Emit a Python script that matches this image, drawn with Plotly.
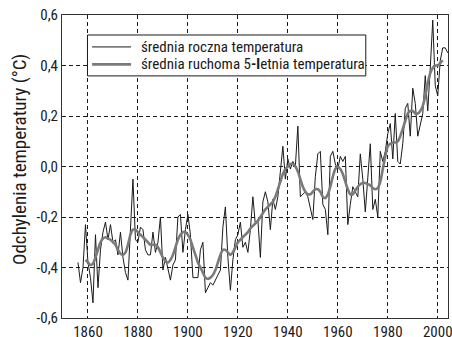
import plotly.graph_objects as go

years = list(range(1856, 2005))
annual = [
    -0.38, -0.46, -0.40, -0.23, -0.38, -0.44, -0.54, -0.27, -0.48, -0.33,  # 1856-1865
    -0.26, -0.22, -0.29, -0.23, -0.30, -0.29, -0.35, -0.26, -0.36, -0.42,  # 1866-1875
    -0.45, -0.27, -0.05, -0.29, -0.30, -0.24, -0.25, -0.33, -0.35, -0.35,  # 1876-1885
    -0.26, -0.34, -0.30, -0.20, -0.41, -0.36, -0.40, -0.45, -0.39, -0.37,  # 1886-1895
    -0.20, -0.19, -0.34, -0.25, -0.19, -0.27, -0.44, -0.44, -0.44, -0.33,  # 1896-1905
    -0.30, -0.50, -0.48, -0.46, -0.47, -0.45, -0.43, -0.41, -0.24, -0.16,  # 1906-1915
    -0.36, -0.49, -0.37, -0.29, -0.27, -0.22, -0.32, -0.30, -0.34, -0.25,  # 1916-1925
    -0.12, -0.23, -0.21, -0.36, -0.14, -0.10, -0.14, -0.25, -0.13, -0.17,  # 1926-1935
    -0.12, -0.02, 0.08, -0.05, 0.03, -0.01, 0.02, 0.00, 0.16, -0.12,       # 1936-1945
    -0.11, -0.10, -0.12, -0.16, -0.21, -0.04, 0.05, 0.06, -0.15, -0.17,    # 1946-1955
    -0.27, 0.04, 0.06, 0.01, -0.01, 0.04, 0.02, 0.04, -0.23, -0.15,        # 1956-1965
    -0.08, -0.10, -0.12, 0.05, -0.05, -0.18, -0.06, 0.09, -0.17, -0.13,    # 1966-1975
    -0.20, 0.06, 0.02, 0.06, 0.13, 0.17, 0.03, 0.21, 0.02, 0.01,           # 1976-1985
    0.09, 0.23, 0.25, 0.12, 0.31, 0.25, 0.12, 0.16, 0.21, 0.36,            # 1986-1995
    0.22, 0.39, 0.58, 0.32, 0.28, 0.42, 0.47, 0.47, 0.45,                  # 1996-2004
]

ma_years = list(range(1859, 2003))
moving5 = [
    -0.37, -0.38, -0.39, -0.385, -0.36, -0.33, -0.30, -0.285, -0.28, -0.285,  # 1859-1868
    -0.29, -0.30, -0.31, -0.33, -0.345, -0.35, -0.34, -0.31, -0.27, -0.25,    # 1869-1878
    -0.25, -0.26, -0.27, -0.28, -0.29, -0.30, -0.31, -0.31, -0.31, -0.32,     # 1879-1888
    -0.34, -0.36, -0.375, -0.38, -0.37, -0.35, -0.32, -0.29, -0.27, -0.26,    # 1889-1898
    -0.26, -0.27, -0.29, -0.32, -0.35, -0.38, -0.40, -0.42, -0.44, -0.445,    # 1899-1908
    -0.44, -0.43, -0.41, -0.38, -0.35, -0.33, -0.33, -0.34, -0.35, -0.34,     # 1909-1918
    -0.32, -0.30, -0.29, -0.28, -0.27, -0.26, -0.245, -0.235, -0.225, -0.215, # 1919-1928
    -0.20, -0.185, -0.17, -0.16, -0.15, -0.14, -0.12, -0.09, -0.06, -0.03,    # 1929-1938
    -0.01, 0.00, 0.01, 0.01, 0.00, -0.02, -0.05, -0.08, -0.10, -0.11,         # 1939-1948
    -0.11, -0.10, -0.09, -0.09, -0.10, -0.12, -0.125, -0.11, -0.08, -0.04,    # 1949-1958
    -0.01, 0.00, -0.01, -0.03, -0.06, -0.09, -0.11, -0.11, -0.095, -0.08,     # 1959-1968
    -0.07, -0.065, -0.065, -0.07, -0.075, -0.085, -0.09, -0.085, -0.06, -0.01, # 1969-1978
    0.04, 0.08, 0.09, 0.095, 0.095, 0.10, 0.12, 0.15, 0.18, 0.21,             # 1979-1988
    0.22, 0.22, 0.21, 0.21, 0.22, 0.24, 0.28, 0.33, 0.37, 0.39,               # 1989-1998
    0.40, 0.40, 0.41, 0.42,                                                   # 1999-2002
]

x_ticks = [1860, 1880, 1900, 1920, 1940, 1960, 1980, 2000]
y_ticks = [-0.6, -0.4, -0.2, 0.0, 0.2, 0.4, 0.6]
y_tick_labels = ["-0,6", "-0,4", "-0,2", "0,0", "0,2", "0,4", "0,6"]
name_annual = "średnia roczna temperatura"
name_moving = "średnia ruchoma 5<b>-l</b>etnia temperatura"
y_title = "Odchylenia temperatury (°C)"

FONT = "Liberation Sans Narrow, Arial Narrow, Roboto Condensed, DejaVu Sans Condensed, sans-serif"
BLACK = "#1a1a1a"
GREY = "#7a7a7a"

fig = go.Figure()
fig.add_trace(go.Scatter(
    x=years, y=annual, mode="lines", name=name_annual, showlegend=False,
    line=dict(color=BLACK, width=1),
))
fig.add_trace(go.Scatter(
    x=ma_years, y=moving5, mode="lines", name=name_moving, showlegend=False,
    line=dict(color=GREY, width=2.6, shape="spline", smoothing=0.8),
))

# manual legend box (paper coordinates)
fig.add_shape(type="rect", xref="paper", yref="paper", x0=0.066, x1=0.787, y0=0.799, y1=0.934,
              line=dict(color=BLACK, width=1), fillcolor="white", layer="above")
fig.add_shape(type="line", xref="paper", yref="paper", x0=0.078, x1=0.179, y0=0.8946, y1=0.8946,
              line=dict(color=BLACK, width=1), layer="above")
fig.add_shape(type="line", xref="paper", yref="paper", x0=0.078, x1=0.179, y0=0.8369, y1=0.8369,
              line=dict(color=GREY, width=2.6), layer="above")
fig.add_annotation(xref="paper", yref="paper", x=0.199, y=0.893, text=name_annual,
                   showarrow=False, xanchor="left", yanchor="middle",
                   font=dict(family=FONT, size=15, color=BLACK))
fig.add_annotation(xref="paper", yref="paper", x=0.199, y=0.8386, text=name_moving,
                   showarrow=False, xanchor="left", yanchor="middle",
                   font=dict(family=FONT, size=15, color=BLACK))
# y-axis title
fig.add_annotation(xref="paper", yref="paper", x=-0.112, y=0.524, text=y_title,
                   showarrow=False, xanchor="center", yanchor="middle", textangle=-90,
                   font=dict(family=FONT, size=19, color=BLACK))

fig.update_layout(
    width=452, height=337,
    margin=dict(l=62, r=4, t=15, b=18.5, autoexpand=False),
    paper_bgcolor="white", plot_bgcolor="white",
    font=dict(family=FONT, size=15, color=BLACK),
    showlegend=False,
    xaxis=dict(
        range=[1849.6, 2004.1], tickvals=x_ticks, automargin=False,
        showgrid=True, gridcolor=BLACK, gridwidth=1, griddash="4px,3px",
        showline=True, linecolor="#333333", linewidth=1, mirror=True,
        ticks="", zeroline=False, tickfont=dict(size=15), ticklabelstandoff=0,
        ticklabeloverflow="allow",
    ),
    yaxis=dict(
        range=[-0.6, 0.6], tickvals=y_ticks, ticktext=y_tick_labels, automargin=False,
        showgrid=True, gridcolor=BLACK, gridwidth=1, griddash="4px,3px",
        showline=True, linecolor="#333333", linewidth=1, mirror=True,
        ticks="", zeroline=False, tickfont=dict(size=15),
        ticklabeloverflow="allow",
    ),
)

fig.write_html(
    "out.html",
    config={"displayModeBar": False},
    post_script="document.body.style.margin='0';document.body.style.overflow='hidden';",
)
